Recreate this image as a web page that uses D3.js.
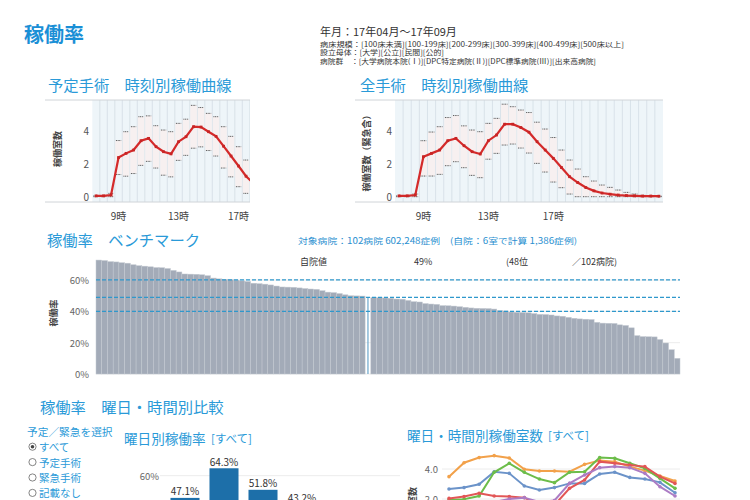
<!DOCTYPE html>
<html><head><meta charset="utf-8">
<script src="https://cdn.jsdelivr.net/npm/d3@7"></script>
<style>body{margin:0;background:#fff}svg{display:block;font-family:"Noto Sans CJK JP","Noto Sans",sans-serif}</style>
</head><body><svg id="c" width="750" height="500"></svg>
<script>
// ---------- DATA ----------
const slots = ["7:30","8:00","8:30","9:00","9:30","10:00","10:30","11:00","11:30","12:00","12:30","13:00","13:30","14:00","14:30","15:00","15:30","16:00","16:30","17:00","17:30","18:00","18:30","19:00","19:30","20:00","20:30","21:00","21:30","22:00","22:30","23:00","23:30"];
const hourTickSlots = ["9:00","13:00","17:00"];
const hourTickLabels = ["9時","13時","17時"];
const roomTicks = [0, 2, 4];

const schedMean  = [0.05,0.05,0.1,2.35,2.6,2.8,3.36,3.5,3.0,2.7,2.57,3.3,3.6,4.2,4.18,3.9,3.62,3.03,2.44,1.84,1.23,0.8,0.5,0.32,0.2,0.13,0.09,0.06,0.04,0.03,0.03,0.02,0.02];
const schedUpper = [0.05,0.05,0.2,3.37,3.9,4.2,4.8,4.85,4.26,4.0,3.9,4.4,4.65,5.48,5.35,5.0,4.8,4.2,3.62,3.0,2.2,1.62,1.2,0.9,0.7,0.5,0.4,0.25,0.15,0.08,0.04,0.03,0.02];
const schedLower = [0,0,0,1.33,1.23,1.39,1.88,2.12,1.72,1.29,1.19,2.18,2.48,2.91,2.99,2.77,2.44,1.72,1.19,0.6,0.2,0,0,0,0,0,0,0,0,0,0,0,0];

const allMean  = [0.05,0.05,0.1,2.4,2.6,2.8,3.36,3.5,3.06,2.7,2.56,3.36,3.7,4.35,4.35,4.15,3.87,3.3,2.8,2.3,1.75,1.2,0.85,0.55,0.35,0.22,0.15,0.1,0.07,0.05,0.04,0.04,0.03];
const allUpper = [0.05,0.05,0.16,3.36,3.88,4.2,4.75,4.87,4.25,4.0,3.9,4.4,4.7,5.55,5.4,5.2,5.05,4.47,4.06,3.55,2.8,2.2,1.66,1.2,0.94,0.7,0.56,0.4,0.26,0.16,0.08,0.04,0.03];
const allLower = [0,0,0,1.24,1.24,1.34,1.86,2.1,1.74,1.28,1.14,2.25,2.6,3.1,3.16,2.92,2.62,2.0,1.48,0.88,0.54,0.16,0,0,0,0,0,0,0,0,0,0,0];

// benchmark: 102 hospitals sorted, own hospital at rank 48
const benchRates = [72.8,72.5,71.8,71.6,71.1,70.8,69.8,69.2,68.9,68.5,68.0,67.9,67.4,66.2,65.2,63.9,63.8,63.7,63.4,62.8,61.3,60.8,60.5,60.3,60.0,59.5,59.1,58.0,57.7,57.4,56.9,56.2,55.6,55.5,55.4,55.0,54.6,54.3,54.1,53.2,52.3,52.0,51.4,50.6,50.0,49.9,49.8,
  49.0,
  48.8,48.7,48.6,48.4,47.9,47.8,47.0,46.2,46.0,45.0,44.7,44.5,43.7,43.6,43.4,43.0,42.6,42.2,42.0,41.9,41.8,41.5,40.6,40.3,39.6,39.4,39.3,39.1,38.6,38.1,38.0,37.7,37.1,36.9,36.2,35.6,35.2,35.0,34.8,33.0,32.5,32.4,32.3,31.4,31.0,29.5,24.5,23.9,23.8,23.7,22.0,19.8,15.5,10.0];
const ownRank = 48;
const ownRate = 49;
const benchRefLines = [60.2, 49, 40];
const benchTicks = [0, 20, 40, 60];

const weekdays = ["月","火","水","木"];
const weekdayRates = [47.1, 64.3, 51.8, 43.2];

const hours = ["8時","9時","10時","11時","12時","13時","14時","15時","16時","17時","18時","19時","20時","21時","22時","23時"];
const lineNames = ["月","火","水","木","金"];
const lineMon = [2.67,2.76,2.98,3.82,3.71,2.87,2.6,2.76,3.04,3.04,3.67,3.78,3.44,3.33,3.11,2.42];
const lineTue = [3.49,4.42,4.76,4.89,4.73,3.98,3.87,3.87,3.82,4.31,4.56,4.49,4.16,3.89,3.53,3.2];
const lineWed = [1.93,1.99,2.2,3.78,4.38,3.78,3.33,3.09,3.78,3.82,4.76,4.71,4.38,4.04,3.38,2.71];
const lineThu = [2.04,2.16,2.38,2.2,2.16,2.09,1.6,1.6,2.71,3.27,4.49,4.38,4.27,4.16,3.49,3.04];
const lineFri = [1.5,1.6,1.7,1.8,2.0,2.09,1.8,1.9,3.04,3.6,4.09,4.16,4.09,3.71,2.82,2.2];
const lineColors = ["#6b93c9","#f2a14a","#6cbd4a","#e25656","#ac7cc4"];
const lineTicks = [2.0, 4.0];

const radioOptions = ["すべて","予定手術","緊急手術","記載なし"];

// ---------- DRAW ----------
const svg = d3.select("#c");
const BLUE = "#2a9ad8";
const FONT = '"Noto Sans CJK JP","Noto Sans",sans-serif';

function txt(x, y, s, o = {}) {
  return svg.append("text").attr("x", x).attr("y", y).text(s)
    .attr("font-size", o.size || 10).attr("fill", o.fill || "#333")
    .attr("font-weight", o.weight || 400)
    .attr("text-anchor", o.anchor || "start")
    .attr("dominant-baseline", "central");
}

// header
txt(24, 33, "稼働率", {size: 20, fill: "#1a8fd6", weight: 700});
txt(320, 31, "年月：17年04月～17年09月", {size: 11, fill: "#333"});
txt(320, 43.5, "病床規模：[100床未満][100-199床][200-299床][300-399床][400-499床][500床以上]", {size: 7, fill: "#333"}).attr("textLength", 304).attr("lengthAdjust", "spacingAndGlyphs");
txt(320, 52, "設立母体：[大学][公立][民間][公的]", {size: 7, fill: "#333"}).attr("textLength", 124).attr("lengthAdjust", "spacingAndGlyphs");
txt(320, 60.5, "病院群　：[大学病院本院(Ⅰ)][DPC特定病院(Ⅱ)][DPC標準病院(Ⅲ)][出来高病院]", {size: 7, fill: "#333"}).attr("textLength", 276).attr("lengthAdjust", "spacingAndGlyphs");

// time curve charts
function timeChart(cfg) {
  const g = svg.append("g");
  if (cfg.clipRight) {
    svg.append("clipPath").attr("id", cfg.id).append("rect")
      .attr("x", 0).attr("y", 0).attr("width", cfg.clipRight).attr("height", 500);
    g.attr("clip-path", `url(#${cfg.id})`);
  }
  const x = d3.scaleBand().domain(slots).range([cfg.x0, cfg.x0 + cfg.band * slots.length]);
  const y = d3.scaleLinear().domain([0, 6]).range([196.7, 96.7]);
  const bw = x.bandwidth();
  const [r0, r1] = x.range();
  g.append("rect").attr("x", r0).attr("y", 100).attr("width", r1 - r0).attr("height", 102).attr("fill", "#eef5f9");
  g.selectAll(".vg").data(slots.slice(1)).join("line")
    .attr("x1", d => x(d)).attr("x2", d => x(d)).attr("y1", 100).attr("y2", 202)
    .attr("stroke", "#d3dde4").attr("stroke-width", 0.8);
  g.append("line").attr("x1", cfg.frameX0).attr("x2", r1).attr("y1", 100).attr("y2", 100).attr("stroke", "#d0d4d8");
  g.append("line").attr("x1", cfg.frameX0).attr("x2", r1).attr("y1", 202).attr("y2", 202).attr("stroke", "#d0d4d8");
  const rows = slots.map((s, i) => ({s, m: cfg.mean[i], u: cfg.upper[i], l: cfg.lower[i]}));
  g.selectAll(".rng").data(rows).join("rect")
    .attr("x", d => x(d.s) + 0.5).attr("width", bw - 1)
    .attr("y", d => y(d.u)).attr("height", d => y(d.l) - y(d.u))
    .attr("fill", "#f7f0f0");
  ["u", "l"].forEach(k => {
    g.selectAll(".d" + k).data(rows).join("line")
      .attr("x1", d => x(d.s) + bw * 0.15).attr("x2", d => x(d.s) + bw * 0.85)
      .attr("y1", d => y(d[k])).attr("y2", d => y(d[k]))
      .attr("stroke", "#555").attr("stroke-width", 1).attr("stroke-dasharray", "1 0.7");
  });
  const line = d3.line().x(d => x(d.s) + bw / 2).y(d => y(d.m));
  g.append("path").datum(rows).attr("d", line).attr("fill", "none").attr("stroke", "#d42a2a").attr("stroke-width", 2.2);
  g.selectAll(".mk").data(rows).join("rect")
    .attr("x", d => x(d.s) + bw / 2 - 1.4).attr("y", d => y(d.m) - 1.4)
    .attr("width", 2.8).attr("height", 2.8).attr("fill", "#c82424");
  roomTicks.forEach(t => {
    svg.append("text").attr("x", cfg.tickX).attr("y", y(t)).text(t)
      .attr("font-size", 10).attr("fill", "#555").attr("text-anchor", "end").attr("dominant-baseline", "central");
  });
  hourTickSlots.forEach((s, i) => {
    svg.append("text").attr("x", x(s) + bw / 2).attr("y", 215).text(hourTickLabels[i])
      .attr("font-size", 10).attr("fill", "#444").attr("text-anchor", "middle").attr("dominant-baseline", "central");
  });
  svg.append("text").attr("transform", `translate(${cfg.labelX},${cfg.labelY}) rotate(-90)`)
    .text(cfg.yLabel).attr("font-size", 9).attr("font-weight", 700).attr("fill", "#444")
    .attr("text-anchor", "middle").attr("dominant-baseline", "central");
  txt(cfg.titleX, 84, cfg.title, {size: 15.3, fill: BLUE});
}

timeChart({id: "clipL", x0: 92.3, band: 7.5, frameX0: 45, clipRight: 250, mean: schedMean, upper: schedUpper, lower: schedLower,
  tickX: 89, labelX: 57, labelY: 149, yLabel: "稼働室数", title: "予定手術　時刻別稼働曲線", titleX: 48});
timeChart({id: "clipR", x0: 395, band: 8.12, frameX0: 355, clipRight: null, mean: allMean, upper: allUpper, lower: allLower,
  tickX: 392, labelX: 366, labelY: 151, yLabel: "稼働室数（緊急含）", title: "全手術　時刻別稼働曲線", titleX: 360});

// benchmark
txt(47, 239, "稼働率　ベンチマーク", {size: 15.3, fill: BLUE});
txt(298, 240, "対象病院：102病院 602,248症例　(自院：6室で計算 1,386症例)", {size: 8.5, fill: "#2a8fd0"}).attr("textLength", 279).attr("lengthAdjust", "spacingAndGlyphs");
txt(300, 261, "自院値", {size: 9, fill: "#333"});
txt(414, 261, ownRate + "%", {size: 9, fill: "#333"});
txt(506, 261, "(" + ownRank + "位", {size: 9, fill: "#333"});
txt(572, 261, "／" + benchRates.length + "病院)", {size: 9, fill: "#333"});

const xb = d3.scaleBand().domain(d3.range(benchRates.length)).range([96, 680]);
const yb = d3.scaleLinear().domain([0, 100]).range([374, 217.5]);
svg.selectAll(".bg").data(benchTicks).join("line")
  .attr("x1", 96).attr("x2", 680).attr("y1", d => yb(d)).attr("y2", d => yb(d)).attr("stroke", "#ececec");
svg.selectAll(".bb").data(benchRates.map((v, i) => ({v, i})).filter(d => d.i !== ownRank - 1)).join("rect")
  .attr("x", d => xb(d.i)).attr("width", xb.bandwidth()).attr("y", d => yb(d.v)).attr("height", d => yb(0) - yb(d.v))
  .attr("fill", "#a3abb8").attr("stroke", "#c3c9d1").attr("stroke-width", 0.5);
svg.append("line").attr("x1", xb(ownRank - 1) + xb.bandwidth() / 2).attr("x2", xb(ownRank - 1) + xb.bandwidth() / 2)
  .attr("y1", yb(benchRates[ownRank - 1])).attr("y2", yb(0)).attr("stroke", "#6aa6cc").attr("stroke-width", 1.2);
svg.selectAll(".rl").data(benchRefLines).join("line")
  .attr("x1", 96).attr("x2", 680).attr("y1", d => yb(d)).attr("y2", d => yb(d))
  .attr("stroke", "#2f98cc").attr("stroke-width", 1.2).attr("stroke-dasharray", "4 2");
benchTicks.forEach(t => {
  svg.append("text").attr("x", 89).attr("y", yb(t)).text(t + "%").attr("font-size", 9.5).attr("fill", "#666")
    .attr("text-anchor", "end").attr("dominant-baseline", "central");
});
svg.append("text").attr("transform", "translate(53,313) rotate(-90)").text("稼働率")
  .attr("font-size", 9).attr("font-weight", 700).attr("fill", "#444").attr("text-anchor", "middle").attr("dominant-baseline", "central");

// bottom section
txt(40, 406, "稼働率　曜日・時間別比較", {size: 15.3, fill: BLUE});
txt(27, 431, "予定／緊急を選択", {size: 10.7, fill: BLUE});
radioOptions.forEach((o, i) => {
  const yy = 446.7 + i * 15.4;
  svg.append("circle").attr("cx", 32.5).attr("cy", yy).attr("r", 3.6).attr("fill", "#fff").attr("stroke", "#666").attr("stroke-width", 0.8);
  if (i === 0) svg.append("circle").attr("cx", 32.5).attr("cy", yy).attr("r", 1.8).attr("fill", "#444");
  txt(39, yy, o, {size: 10.5, fill: BLUE});
});

txt(124, 437.5, "曜日別稼働率", {size: 13.6, fill: BLUE});
txt(211, 437.5, "[すべて]", {size: 11.5, fill: BLUE});
const xw = d3.scaleBand().domain(weekdays).range([165.5, 165.5 + 39 * weekdays.length]).paddingInner(0.256).paddingOuter(0.128);
const yw = d3.scaleLinear().domain([0, 100]).range([579, 406.8]);
svg.append("line").attr("x1", 160).attr("x2", 400).attr("y1", yw(60)).attr("y2", yw(60)).attr("stroke", "#ececec");
svg.append("text").attr("x", 159).attr("y", yw(60)).text("60%").attr("font-size", 9.5).attr("fill", "#666")
  .attr("text-anchor", "end").attr("dominant-baseline", "central");
svg.selectAll(".wb").data(weekdays).join("rect")
  .attr("x", d => xw(d)).attr("width", xw.bandwidth())
  .attr("y", (d, i) => yw(weekdayRates[i])).attr("height", (d, i) => yw(0) - yw(weekdayRates[i]))
  .attr("fill", "#1d6fa9");
svg.selectAll(".wl").data(weekdays).join("text")
  .attr("x", d => xw(d) + xw.bandwidth() / 2).attr("y", (d, i) => yw(weekdayRates[i]) - 7)
  .text((d, i) => weekdayRates[i].toFixed(1) + "%").attr("font-size", 10).attr("fill", "#333")
  .attr("text-anchor", "middle").attr("dominant-baseline", "central");

txt(407, 435, "曜日・時間別稼働室数", {size: 13.6, fill: BLUE});
txt(548, 435, "[すべて]", {size: 11.5, fill: BLUE});
const xh = d3.scalePoint().domain(hours).range([449, 675]);
const yh = d3.scaleLinear().domain([0, 5]).range([529, 454]);
lineTicks.forEach(t => {
  svg.append("line").attr("x1", 442).attr("x2", 680).attr("y1", yh(t)).attr("y2", yh(t)).attr("stroke", "#ececec");
  svg.append("text").attr("x", 438).attr("y", yh(t)).text(t.toFixed(1)).attr("font-size", 9.5).attr("fill", "#666")
    .attr("text-anchor", "end").attr("dominant-baseline", "central");
});
svg.append("text").attr("transform", "translate(412,505) rotate(-90)").text("稼働室数")
  .attr("font-size", 9).attr("font-weight", 700).attr("fill", "#444").attr("text-anchor", "middle").attr("dominant-baseline", "central");
const lineSeries = [lineMon, lineTue, lineWed, lineThu, lineFri];
const hl = d3.line().x((d, i) => xh(hours[i])).y(d => yh(d));
lineSeries.forEach((s, k) => {
  svg.append("path").datum(s).attr("d", hl).attr("fill", "none").attr("stroke", lineColors[k]).attr("stroke-width", 2);
  svg.selectAll(".p" + k).data(s).join("circle").attr("cx", (d, i) => xh(hours[i])).attr("cy", d => yh(d))
    .attr("r", 1.8).attr("fill", lineColors[k]);
});
</script></body></html>
